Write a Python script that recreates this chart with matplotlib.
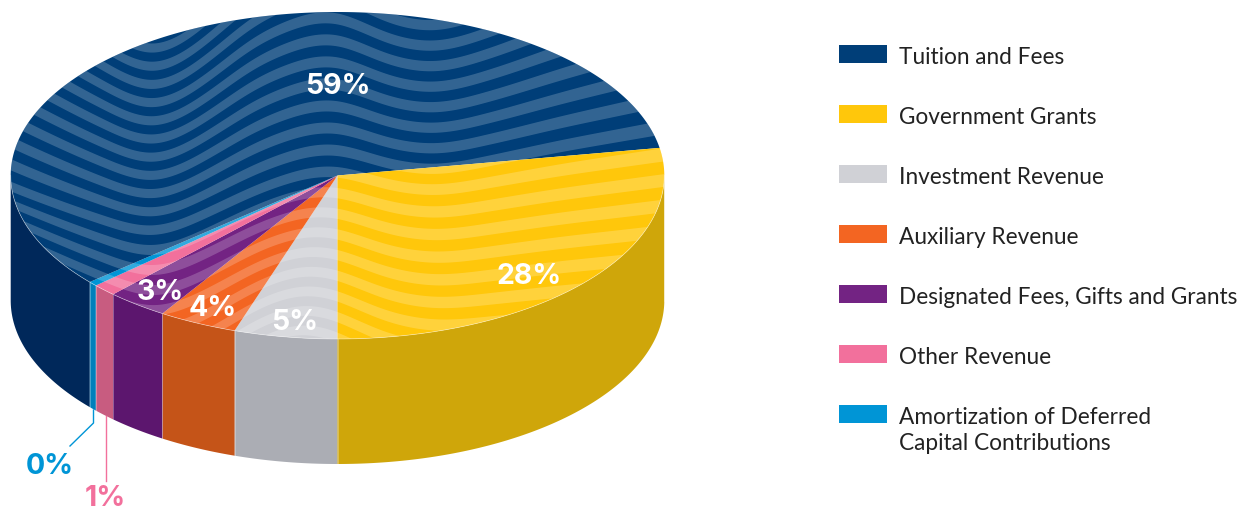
import numpy as np
import matplotlib
matplotlib.use('Agg')
import matplotlib.pyplot as plt
from matplotlib.patches import Polygon, Rectangle, Ellipse

# Revenue shares in percent
categories = ['Tuition and Fees', 'Government Grants', 'Investment Revenue', 'Auxiliary Revenue',
              'Designated Fees, Gifts and Grants', 'Other Revenue',
              'Amortization of Deferred\nCapital Contributions']
shares = [58.6, 27.7, 5.1, 3.9, 3.05, 1.2, 0.45]
top_colors = ['#003E78', '#FFC70B', '#D0D1D6', '#F36522', '#732383', '#F2709C', '#0095D6']
side_colors = ['#00285A', '#CFA60A', '#ABADB4', '#C55418', '#5C166E', '#C85C80', '#0080BB']
label_colors = ['white', 'white', 'white', 'white', 'white', '#F2709C', '#0095D6']
label_pos = [(338, 87), (529, 276), (295, 323), (213, 308), (160, 293), (105, 499), (50, 466)]

# Guide curves for the wave texture (x, y) - every stripe is blended from these
wave_x = [-30, 11, 80, 153, 210, 250, 300, 337, 380, 435, 497, 560, 643, 700]
wave_top = [0, 30, 73, 112, 78, 42, 20, 12, 38, 50, 30, 3, -30, -55]
wave_mid = [170, 188, 213, 236, 212, 192, 174, 168, 184, 192, 181, 170, 158, 150]
wave_low = [280, 300, 340, 378, 355, 326, 306, 314, 338, 350, 345, 340, 335, 330]

CX, CY, RX, RY = 337.5, 175.5, 326.8, 163.5
DEPTH = 125


def rim(t):
    """Point on the top ellipse, t measured in radians from the front, going left."""
    return CX - RX * np.sin(t), CY + RY * np.cos(t)


def smooth_curve(xs, ys, grid):
    """Resample a guide curve on grid and round off its corners."""
    curve = np.interp(grid, xs, ys)
    size = 25
    for _ in range(2):
        padded = np.pad(curve, size // 2, mode='edge')
        curve = np.convolve(padded, np.ones(size) / size, mode='valid')
    return curve


def blend(top, mid, low, k):
    # index 0 is the top curve, 7 the middle one, 14 the low one
    if k <= 7:
        return top + (mid - top) * k / 7
    return mid + (low - mid) * (k - 7) / 7


def draw_stripes(ax, clip):
    grid = np.arange(-30, 701, 2.0)
    top = smooth_curve(wave_x, wave_top, grid)
    mid = smooth_curve(wave_x, wave_mid, grid)
    low = smooth_curve(wave_x, wave_low, grid)
    half = 0.25
    for k in range(-5, 20):
        upper = blend(top, mid, low, k - half)
        lower = blend(top, mid, low, k + half)
        xy = np.column_stack([np.r_[grid, grid[::-1]], np.r_[upper, lower[::-1]]])
        band = Polygon(xy, closed=True, facecolor='white', edgecolor='none', alpha=0.2, zorder=3)
        ax.add_patch(band)
        band.set_clip_path(clip)


def split_runs(values):
    gaps = np.where(np.diff(values) > 0.5)[0] + 1
    return np.split(values, gaps)


def draw_pie(ax):
    # clockwise from the front: the small slices first, tuition and grants last
    order = list(np.roll(np.arange(len(shares)), -2))
    start = 0.0
    for i in order:
        stop = start + shares[i] / sum(shares) * 2 * np.pi
        t = np.linspace(start, stop, 200)
        x, y = rim(t)
        ax.add_patch(Polygon(np.column_stack([np.r_[CX, x], np.r_[CY, y]]), closed=True,
                             facecolor=top_colors[i], edgecolor='none', zorder=2))
        # the wall only shows on the front half of the rim
        front = t[np.cos(t) >= 0]
        if len(front):
            for part in split_runs(front):
                wall_x, wall_y = rim(part)
                xy = np.column_stack([np.r_[wall_x, wall_x[::-1]],
                                      np.r_[wall_y, wall_y[::-1] + DEPTH]])
                ax.add_patch(Polygon(xy, closed=True, facecolor=side_colors[i],
                                     edgecolor='none', zorder=1))
                ax.plot([wall_x[0], wall_x[0]], [wall_y[0], wall_y[0] + DEPTH],
                        color='white', lw=0.5, alpha=0.4, zorder=1.5)
        start = stop
    # pale hairline along the front rim
    t = np.linspace(-np.pi / 2, np.pi / 2, 400)
    x, y = rim(t)
    ax.plot(x, y, color='white', lw=0.5, alpha=0.5, zorder=4)


def main():
    fig = plt.figure(figsize=(12.38, 5.12), dpi=100)
    ax = fig.add_axes([0, 0, 1, 1])
    ax.set_xlim(0, 1238)
    ax.set_ylim(512, 0)
    ax.axis('off')

    draw_pie(ax)
    clip = Ellipse((CX, CY), 2 * RX, 2 * RY, transform=ax.transData, facecolor='none', edgecolor='none')
    ax.add_patch(clip)
    draw_stripes(ax, clip)

    # Percent labels
    for share, pos, color in zip(shares, label_pos, label_colors):
        ax.text(pos[0], pos[1], f'{round(share)}%', color=color, fontsize=20.5, fontweight='bold',
                family='Inter', ha='center', va='center', zorder=6)

    # Leader lines for the two thin slices
    ax.plot([93.5, 93.5, 70], [410, 423, 446], color='#0095D6', lw=1.0, zorder=5)
    ax.plot([105.5, 105.5], [416, 481], color='#F2709C', lw=1.0, zorder=5)

    # Legend
    for i, (name, color) in enumerate(zip(categories, top_colors)):
        y = 45 + 60 * i
        ax.add_patch(Rectangle((839, y), 48, 18, facecolor=color, edgecolor='none'))
        for j, line in enumerate(name.split('\n')):
            ax.text(899, y + 12 + 27 * j, line, fontsize=16.3, family='Lato', color='#222222', va='center')

    fig.savefig('out.png', dpi=100)


if __name__ == "__main__":
    main()
